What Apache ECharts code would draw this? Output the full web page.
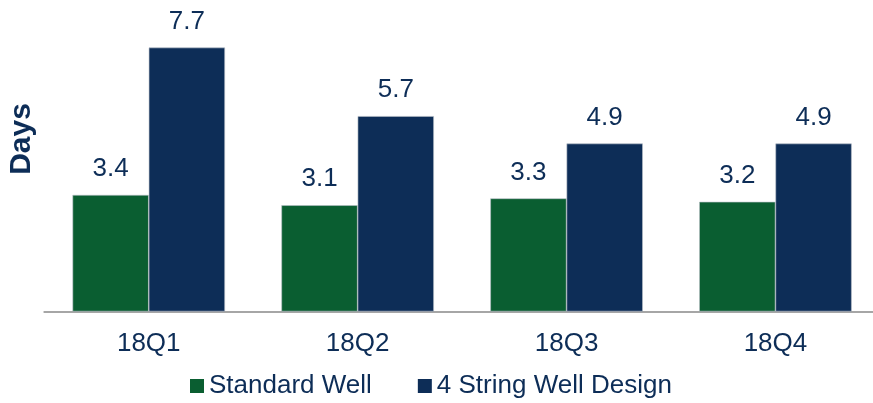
<!DOCTYPE html>
<html>
<head>
<meta charset="utf-8">
<script src="https://cdn.jsdelivr.net/npm/echarts@6/dist/echarts.min.js"></script>
<style>
  html, body { margin: 0; padding: 0; background: #ffffff; overflow: hidden; }
  /* canvas runs a few pixels past the right edge so the last category is clipped */
  #chart { width: 881px; height: 403px; }
</style>
</head>
<body>
<div id="chart"></div>
<script>
// Quarterly drilling days per well type
const quarters = ['18Q1', '18Q2', '18Q3', '18Q4'];
const standardWell = [3.4, 3.1, 3.3, 3.2];
const fourStringWell = [7.7, 5.7, 4.9, 4.9];
const seriesNames = ['Standard Well', '4 String Well Design'];
const axisTitle = 'Days';

const NAVY = '#0d2d57';
const GREEN = '#0a5e31';
const FONT = 'Liberation Sans, Arial, sans-serif';

const chart = echarts.init(document.getElementById('chart'), null, { renderer: 'canvas' });

const labelStyle = {
  show: true,
  position: 'top',
  distance: 13,
  color: NAVY,
  fontFamily: FONT,
  fontSize: 26,
  formatter: p => p.value.toFixed(1)
};

chart.setOption({
  animation: false,
  textStyle: { fontFamily: FONT },
  grid: { left: 44.3, width: 835.6, top: 3, height: 308.5, containLabel: false },
  legend: {
    data: seriesNames,
    left: 185,
    top: 368,
    itemWidth: 14,
    itemHeight: 14,
    itemGap: 46,
    icon: 'rect',
    itemStyle: { borderWidth: 0 },
    textStyle: { color: NAVY, fontSize: 26, fontFamily: FONT }
  },
  // Rotated axis title on the left
  graphic: [{
    type: 'text',
    x: 22,
    y: 139,
    rotation: Math.PI / 2,
    style: {
      text: axisTitle,
      fill: NAVY,
      font: 'bold 30px Liberation Sans, Arial, sans-serif',
      align: 'center',
      verticalAlign: 'middle'
    }
  }],
  xAxis: {
    type: 'category',
    data: quarters,
    axisLine: { lineStyle: { color: '#a6a6a6', width: 2 } },
    axisTick: { show: false },
    axisLabel: { color: NAVY, fontSize: 26, fontFamily: FONT, margin: 19 }
  },
  yAxis: {
    type: 'value',
    min: 0,
    max: 9,
    axisLine: { show: false },
    axisTick: { show: false },
    axisLabel: { show: false },
    splitLine: { show: false }
  },
  series: [
    {
      name: seriesNames[0],
      type: 'bar',
      data: standardWell,
      barGap: '0%',
      barCategoryGap: '27%',
      itemStyle: { color: GREEN, borderColor: '#b9c0c8', borderWidth: 0.6 },
      label: labelStyle
    },
    {
      name: seriesNames[1],
      type: 'bar',
      data: fourStringWell,
      barGap: '0%',
      barCategoryGap: '27%',
      itemStyle: { color: NAVY, borderColor: '#b9c0c8', borderWidth: 0.6 },
      label: labelStyle
    }
  ]
});
</script>
</body>
</html>
